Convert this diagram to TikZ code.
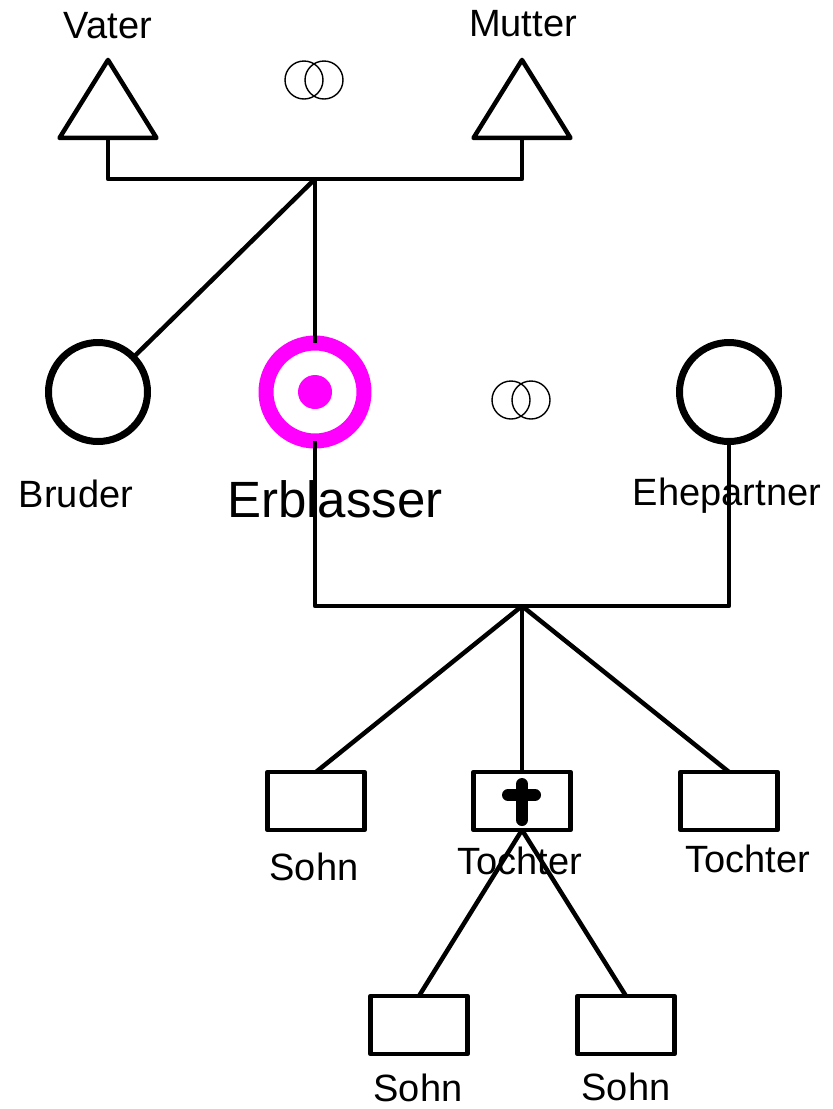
\documentclass[tikz,border=0pt]{standalone}
\usepackage{fontspec}
\setmainfont{Liberation Sans}
\usetikzlibrary{shapes.geometric}
\definecolor{lila}{RGB}{255,0,255}

\begin{document}
\begin{tikzpicture}[x=1pt,y=-1pt,line join=round]
\tikzstyle{mann}=[isosceles triangle, shape border rotate=90, isosceles triangle stretches, minimum width=97pt, minimum height=78pt, draw, line width=4.5pt, inner sep=0pt, outer sep=0pt]
\tikzstyle{frau}=[circle, draw, line width=7pt, minimum size=99pt, inner sep=0pt, outer sep=0pt]
\tikzstyle{kind}=[rectangle, draw, line width=4.5pt, minimum width=97pt, minimum height=58pt, inner sep=0pt, outer sep=0pt]
\tikzstyle{etikett}=[anchor=base, inner sep=0pt, font=\fontsize{38}{40}\selectfont]
\tikzstyle{ringe}=[line width=1.4pt]
\tikzstyle{linie}=[line width=4.5pt]
\useasboundingbox (0,0) rectangle (833,1109);

\node[mann] (V) at (108,111) {};
\node[mann] (M) at (522,111) {};
\node[frau] (B) at (98,392) {};
\node[circle, draw=lila, line width=15pt, minimum size=98pt, inner sep=0pt, outer sep=0pt] (E) at (315,392) {};
\node[circle, fill=lila, minimum size=34pt, inner sep=0pt] (Ep) at (315,392) {};
\node[frau] (P) at (729,392) {};
\node[kind] (S) at (316,801) {};
\node[kind] (T) at (522,801) {};
\node[kind] (T2) at (729,801) {};
\node[kind] (E1) at (419,1025) {};
\node[kind] (E2) at (626,1025) {};

\coordinate (J1) at (315,179);
\coordinate (J2) at (522,606);

% Namen
\node[etikett] (nV) at (108,38) {Vater};
\node[etikett] (nM) at (523,36) {Mutter};
\node[etikett] (nB) at (76,507) {Bruder};
\node[etikett, font=\fontsize{51}{53}\selectfont] (nE) at (335,517) {Erblasser};
\node[etikett] (nP) at (727,505) {Ehepartner};
\node[etikett] (nS) at (314,880) {Sohn};
\node[etikett] (nT) at (520,874) {Tochter};
\node[etikett] (nT2) at (748,872) {Tochter};
\node[etikett] (nE1) at (418,1101) {Sohn};
\node[etikett] (nE2) at (626,1100) {Sohn};

% Ringe
\draw[ringe] (304,80) circle (19pt) (324,80) circle (19pt);
\draw[ringe] (511,400) circle (19pt) (531,400) circle (19pt);

\draw[linie] (V.lower side) |- (J1) -| (M.lower side);
\draw[linie] (J1) -- (E.north);
\draw[linie] (J1) -- (B);
\draw[linie] (E.south) |- (J2) -| (P.south);
\draw[linie] (J2) -- (S.north);
\draw[linie] (J2) -- (T.north);
\draw[linie] (J2) -- (T2.north);
\draw[linie] (T.south) -- (E1.north);
\draw[linie] (T.south) -- (E2.north);

% Kreuz
\draw[line width=12pt, line cap=round] (522,784) -- (522,820) (508,795) -- (535,795);
\end{tikzpicture}
\end{document}
